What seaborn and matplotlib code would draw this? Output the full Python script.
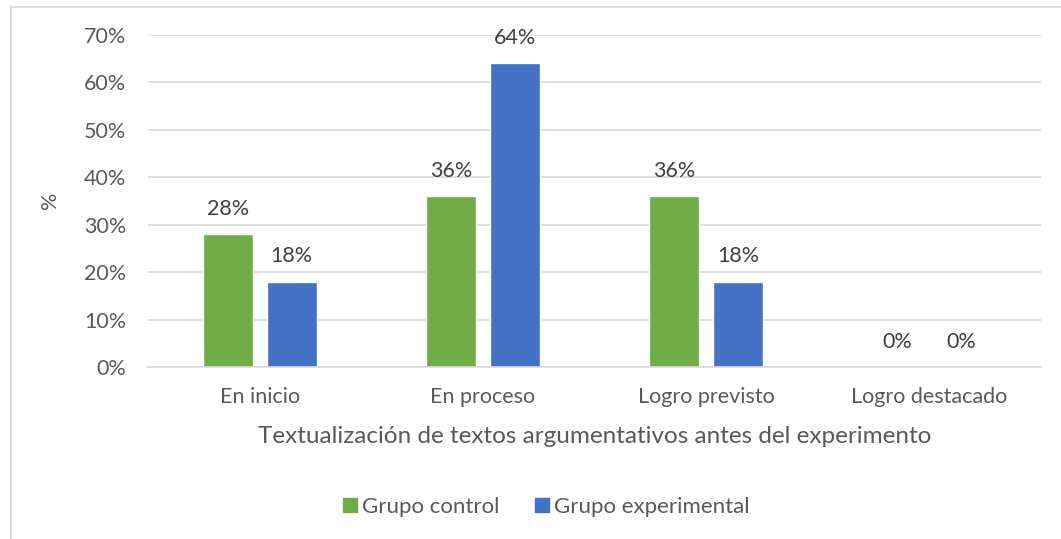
import pandas as pd
import matplotlib.pyplot as plt
import seaborn as sns
from matplotlib.lines import Line2D
from matplotlib.ticker import PercentFormatter

# data
categorias = ["En inicio", "En proceso", "Logro previsto", "Logro destacado"]
grupo_control = [28, 36, 36, 0]
grupo_experimental = [18, 64, 18, 0]
grupos = ["Grupo control", "Grupo experimental"]

df = pd.DataFrame({
    "categoria": categorias * 2,
    "valor": grupo_control + grupo_experimental,
    "grupo": [grupos[0]] * 4 + [grupos[1]] * 4,
})

sns.set_theme(style="white")
plt.rcParams["font.family"] = ["Lato", "DejaVu Sans"]
gris = "#595959"

fig = plt.figure(figsize=(10.61, 5.39), dpi=100)
ax = fig.add_axes([0.1395, 0.319, 0.8415, 0.616])

sns.barplot(data=df, x="categoria", y="valor", hue="grupo", ax=ax,
            palette=["#70AD47", "#4472C4"], width=0.574, gap=0.22,
            saturation=1, legend=False)

ax.set_ylim(0, 70)
ax.set_yticks(range(0, 71, 10))
ax.yaxis.set_major_formatter(PercentFormatter(decimals=0))
ax.grid(axis="y", color="#D9D9D9", linewidth=1.2)
ax.set_axisbelow(True)
for s in ["top", "right", "left"]:
    ax.spines[s].set_visible(False)
ax.spines["bottom"].set_color("#D9D9D9")
ax.spines["bottom"].set_linewidth(1.2)
ax.tick_params(axis="both", length=0, labelsize=15.5, colors=gris)
ax.tick_params(axis="y", pad=15.5)
ax.tick_params(axis="x", pad=14)

for cont in ax.containers:
    ax.bar_label(cont, fmt="%d%%", padding=11, fontsize=15.5, color="#404040")

ax.set_xlabel("Textualización de textos argumentativos antes del experimento",
              fontsize=17.5, color=gris, labelpad=14)
ax.set_ylabel("%", fontsize=15.5, color=gris)
ax.yaxis.set_label_coords(-0.0985, 0.503)

handles = [Line2D([], [], marker="s", linestyle="", markersize=10,
                  color=c) for c in ["#70AD47", "#4472C4"]]
fig.legend(handles, grupos, loc="center",
           bbox_to_anchor=(544 / 1061, 1 - 507 / 539),
           ncol=2, frameon=False, fontsize=16, labelcolor=gris,
           handletextpad=0.05, columnspacing=1.4, handlelength=1.0)

# chart border (cropped on right and bottom)
fig.add_artist(Line2D([10.5 / 1061, 10.5 / 1061], [0, 1 - 6.5 / 539],
                      color="#D9D9D9", linewidth=1.2))
fig.add_artist(Line2D([10.5 / 1061, 1], [1 - 6.5 / 539, 1 - 6.5 / 539],
                      color="#D9D9D9", linewidth=1.2))

fig.savefig("out.png", dpi=100)
